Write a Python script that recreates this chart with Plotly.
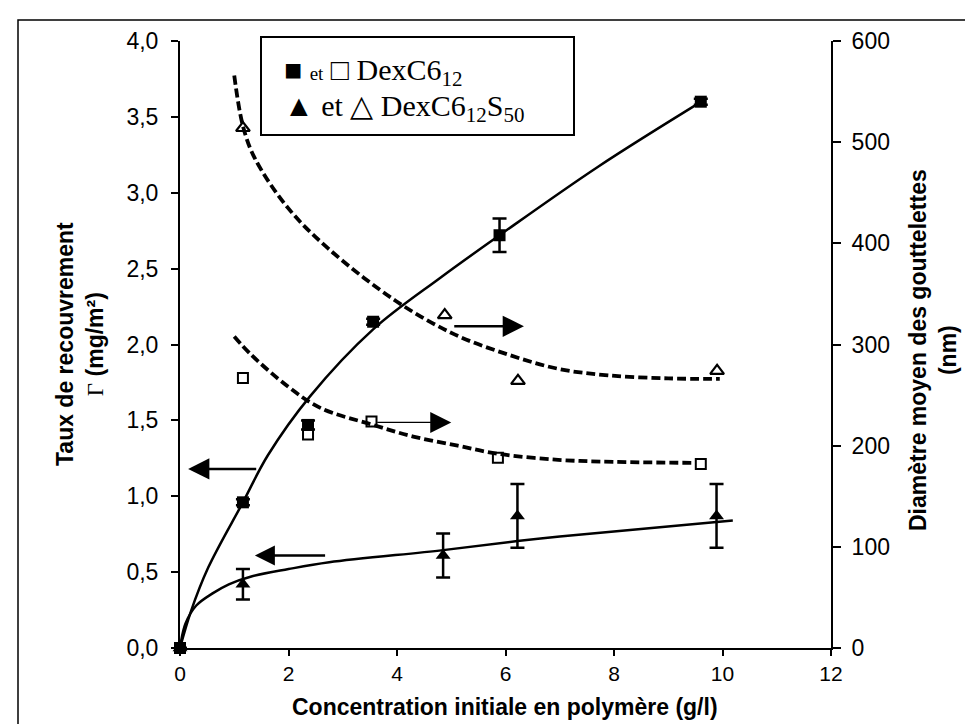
import plotly.graph_objects as go

# Γ (mg/m²) vs concentration, DexC6_12 (filled squares)
sq_x = [0, 1.16, 2.36, 3.56, 5.89, 9.6]
sq_gamma = [0, 0.96, 1.47, 2.15, 2.72, 3.6]
sq_gamma_err = [0, 0.02, 0.03, 0.02, 0.11, 0.02]

# droplet diameter (nm), DexC6_12 (open squares)
sq_diam_x = [1.16, 2.36, 3.53, 5.86, 9.6]
sq_diam = [267, 211, 224, 188, 182]

# Γ (mg/m²), DexC6_12S50 (filled triangles)
tri_x = [0, 1.16, 4.85, 6.22, 9.89]
tri_gamma = [0, 0.42, 0.61, 0.87, 0.87]
tri_gamma_err = [0, 0.1, 0.145, 0.21, 0.21]

# droplet diameter (nm), DexC6_12S50 (open triangles)
tri_diam_x = [1.16, 4.88, 6.23, 9.9]
tri_diam = [514, 329, 264, 274]

# trend curves
fit_sq_x = [0, 0.2, 0.52, 1.16, 1.62, 2.4, 3.56, 4.8, 5.89, 7.7, 9.7]
fit_sq_y = [0, 0.24, 0.53, 0.96, 1.27, 1.66, 2.1, 2.44, 2.72, 3.17, 3.62]

fit_tri_x = [0, 0.1, 0.3, 0.6, 0.9, 1.3, 2.0, 2.75, 4.85, 6.22, 7.0, 10.19]
fit_tri_y = [0, 0.16, 0.28, 0.36, 0.42, 0.47, 0.52, 0.565, 0.645, 0.705, 0.735, 0.84]

fit_sq_d_x = [1.0, 1.31, 2.0, 2.6, 3.53, 4.3, 5.12, 5.86, 6.97, 8.0, 9.5]
fit_sq_d = [308, 290, 258, 237, 221, 209, 200, 192, 186, 184, 183]

fit_tri_d_x = [1.0, 1.16, 1.38, 1.99, 2.73, 3.98, 5.06, 6.05, 6.97, 7.89, 9.0, 9.95]
fit_tri_d = [566, 516, 484, 435, 395, 343, 310, 290, 276, 269.5, 266.5, 266]

x_ticks = [0, 2, 4, 6, 8, 10, 12]

W, H = 973, 724
L, R, T, B = 172, 150, 33, 84
PW, PH = W - L - R, H - T - B


def px(xp):
    return (xp - L) / PW


def py(yp):
    return (H - B - yp) / PH


fig = go.Figure()

# curves
fig.add_trace(go.Scatter(x=fit_sq_x, y=fit_sq_y, mode='lines', line_shape='spline',
                         line=dict(color='black', width=2.5), hoverinfo='skip'))
fig.add_trace(go.Scatter(x=fit_tri_x, y=fit_tri_y, mode='lines', line_shape='spline',
                         line=dict(color='black', width=2.5), hoverinfo='skip'))
fig.add_trace(go.Scatter(x=fit_sq_d_x, y=fit_sq_d, yaxis='y2', mode='lines', line_shape='spline',
                         line=dict(color='black', width=3.8, dash='9px,4px'), hoverinfo='skip'))
fig.add_trace(go.Scatter(x=fit_tri_d_x, y=fit_tri_d, yaxis='y2', mode='lines', line_shape='spline',
                         line=dict(color='black', width=3.8, dash='9px,4px'), hoverinfo='skip'))

# markers
fig.add_trace(go.Scatter(x=sq_x, y=sq_gamma, mode='markers', name='DexC6_12',
                         marker=dict(symbol='square', size=12, color='black'),
                         error_y=dict(type='data', array=sq_gamma_err, color='black', thickness=2.5, width=7),
                         cliponaxis=False))
fig.add_trace(go.Scatter(x=tri_x, y=tri_gamma, mode='markers', name='DexC6_12S50',
                         marker=dict(symbol='triangle-up', size=13, color='black'),
                         error_y=dict(type='data', array=tri_gamma_err, color='black', thickness=2.5, width=7),
                         cliponaxis=False))
fig.add_trace(go.Scatter(x=sq_diam_x, y=sq_diam, yaxis='y2', mode='markers',
                         marker=dict(symbol='square-open', size=10, color='black', line=dict(width=2))))
fig.add_trace(go.Scatter(x=tri_diam_x, y=tri_diam, yaxis='y2', mode='markers',
                         marker=dict(symbol='triangle-up-open', size=12, color='black', line=dict(width=2.2))))

tickfont = dict(family='Liberation Sans, Arial', size=23, color='black')

fig.update_layout(
    width=W, height=H, margin=dict(l=L, r=R, t=T, b=B),
    plot_bgcolor='white', paper_bgcolor='white', showlegend=False,
    separators=',.',
    xaxis=dict(range=[0, 12], tickvals=x_ticks, showgrid=False, zeroline=False,
               showline=True, linecolor='black', linewidth=2, ticks='outside', ticklen=6,
               tickwidth=1.5, tickcolor='black', ticklabelstandoff=0,
               tickfont=dict(family='Liberation Sans, Arial', size=21, color='black')),
    yaxis=dict(range=[0, 4], dtick=0.5, tickformat='.1f', showgrid=False, zeroline=False,
               showline=True, linecolor='black', linewidth=2, ticks='outside', ticklen=7,
               tickwidth=1.5, tickcolor='black', tickfont=tickfont, ticklabelstandoff=8),
    yaxis2=dict(range=[0, 600], dtick=100, overlaying='y', side='right', showgrid=False,
                zeroline=False, showline=True, linecolor='black', linewidth=2,
                ticks='outside', ticklen=8, tickwidth=1.5, tickcolor='black', tickfont=tickfont,
                ticklabelstandoff=6),
    yaxis3=dict(range=[0, 600], dtick=100, overlaying='y', side='right', anchor='x',
                showgrid=False, zeroline=False, showline=False, ticks='inside', ticklen=8,
                tickwidth=1.5, tickcolor='black', showticklabels=False),
)

fig.add_annotation(text='<b>Concentration initiale en polymère (g/l)</b>', xref='paper', yref='paper',
                   x=px(497), y=py(699), xanchor='center', yanchor='middle', showarrow=False,
                   font=dict(family='Liberation Sans, Arial', size=23, color='black'))
fig.add_annotation(text="<b>Taux de recouvrement</b><br><span style='font-family:Liberation Serif'>Γ</span><b> (mg/m²)</b>",
                   xref='paper', yref='paper', x=px(72), y=py(336), textangle=-90,
                   xanchor='center', yanchor='middle', showarrow=False,
                   font=dict(family='Liberation Sans, Arial', size=23, color='black'))
fig.add_annotation(text='<b>Diamètre moyen des gouttelettes<br>(nm)</b>', xref='paper', yref='paper',
                   x=px(925), y=py(342), textangle=-90, xanchor='center', yanchor='middle',
                   showarrow=False, font=dict(family='Liberation Sans, Arial', size=23, color='black'))

# arrows
arrow = dict(showarrow=True, arrowhead=2, arrowcolor='black', text=' ', xref='x', axref='x')
fig.add_annotation(x=0.15, y=1.18, ax=1.46, ay=1.18, yref='y', ayref='y',
                   arrowsize=1.7, arrowwidth=2.5, **arrow)
fig.add_annotation(x=1.38, y=0.61, ax=2.73, ay=0.61, yref='y', ayref='y',
                   arrowsize=1.6, arrowwidth=2.5, **arrow)
fig.add_annotation(x=6.34, y=318, ax=5.0, ay=318, yref='y2', ayref='y2',
                   arrowsize=1.7, arrowwidth=2.5, **arrow)
fig.add_annotation(x=5.0, y=223, ax=3.58, ay=223, yref='y2', ayref='y2',
                   arrowsize=3.0, arrowwidth=1.4, **arrow)

# legend box
fig.add_shape(type='rect', xref='paper', yref='paper', x0=px(253), x1=px(566), y0=py(127), y1=py(29),
              line=dict(color='black', width=2), fillcolor='white', layer='above')
serif = 'Liberation Serif, Times New Roman'
fig.add_annotation(xref='paper', yref='paper', x=px(274), y=py(64), xanchor='left', yanchor='middle',
                   showarrow=False,
                   text="■ <span style='font-size:19px'>et</span> □ DexC6<sub>12</sub>",
                   font=dict(family=serif, size=30, color='black'))
fig.add_annotation(xref='paper', yref='paper', x=px(274), y=py(100), xanchor='left', yanchor='middle',
                   showarrow=False,
                   text="▲ et △ DexC6<sub>12</sub>S<sub>50</sub>",
                   font=dict(family=serif, size=30, color='black'))

# outer frame
fig.add_shape(type='rect', xref='paper', yref='paper', x0=px(10), x1=px(966), y0=py(721), y1=py(12),
              line=dict(color='black', width=1.5), layer='below')

fig.write_html("out.html")
